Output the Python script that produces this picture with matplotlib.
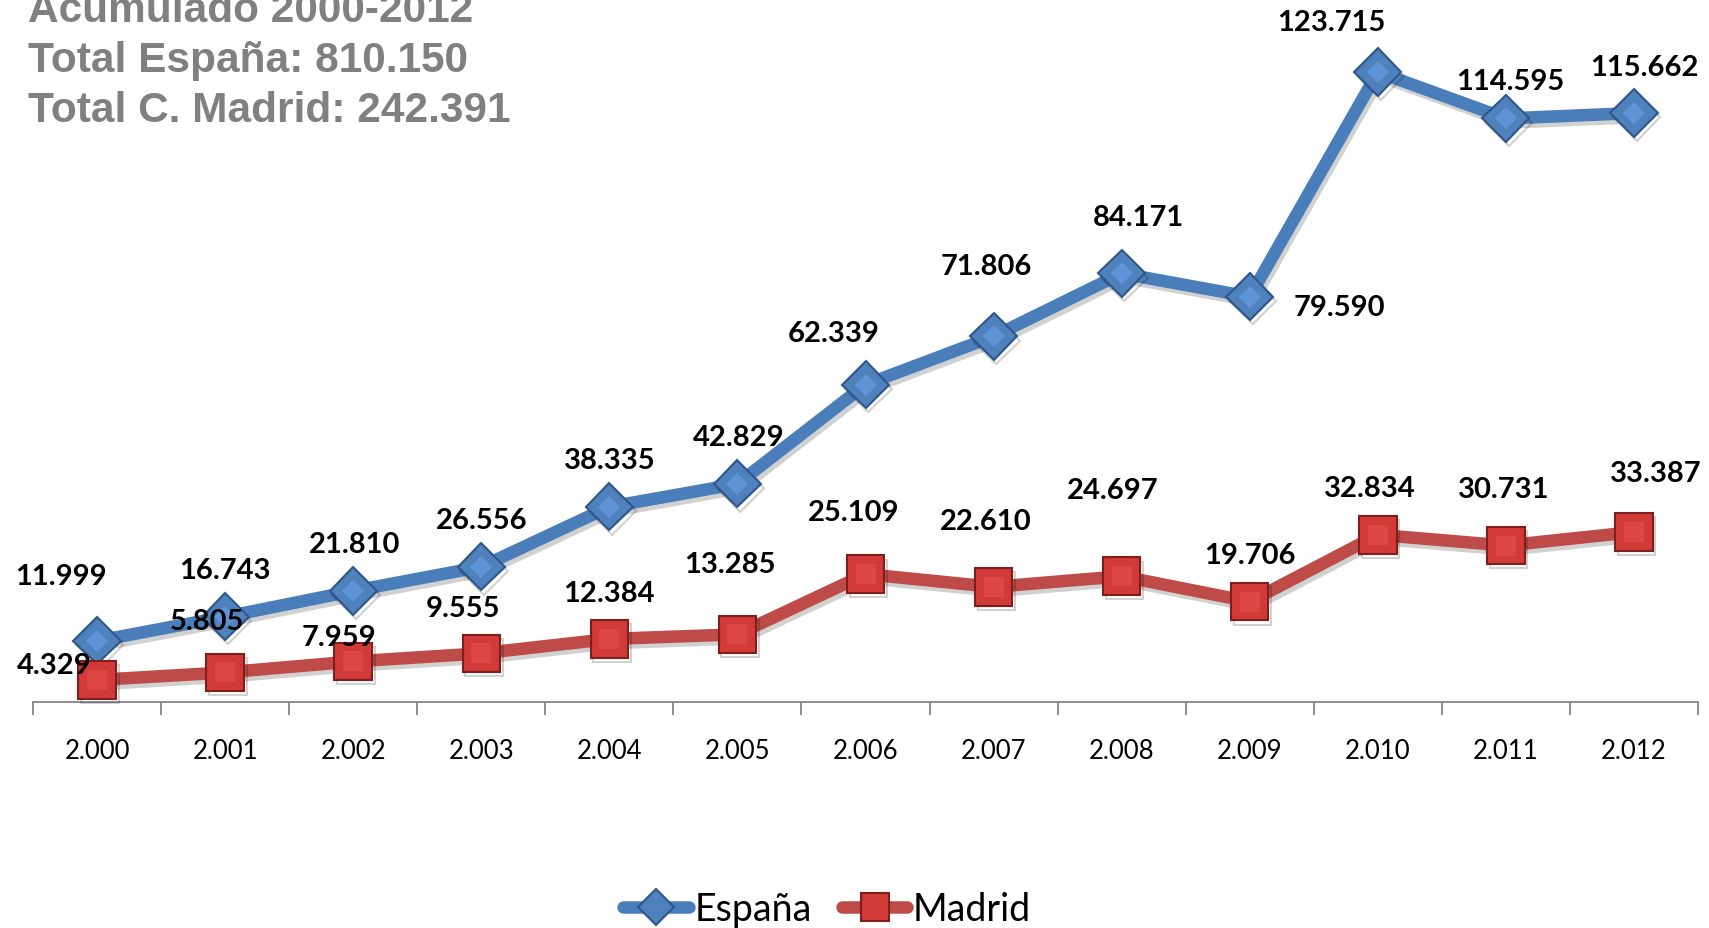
import matplotlib
matplotlib.use("Agg")
import matplotlib.pyplot as plt
import matplotlib.patheffects as pe
from matplotlib.ticker import FixedLocator, NullFormatter

years = ["2.000", "2.001", "2.002", "2.003", "2.004", "2.005", "2.006",
         "2.007", "2.008", "2.009", "2.010", "2.011", "2.012"]
espana = [11999, 16743, 21810, 26556, 38335, 42829, 62339,
          71806, 84171, 79590, 123715, 114595, 115662]
madrid = [4329, 5805, 7959, 9555, 12384, 13285, 25109,
          22610, 24697, 19706, 32834, 30731, 33387]
espana_labels = ["11.999", "16.743", "21.810", "26.556", "38.335", "42.829", "62.339",
                 "71.806", "84.171", "79.590", "123.715", "114.595", "115.662"]
madrid_labels = ["4.329", "5.805", "7.959", "9.555", "12.384", "13.285", "25.109",
                 "22.610", "24.697", "19.706", "32.834", "30.731", "33.387"]
title_lines = ["Acumulado 2000-2012", "Total España: 810.150", "Total C. Madrid: 242.391"]

# label offsets (layout, in reference pixels: dx right, dy down)
esp_off = [(-33, -60), (0, -43), (1, -43), (0, -43), (0, -43), (1, -43), (-29, -47),
           (-7, -65), (15, -52), (82, 9), (-43, -46), (4, -34), (10, -42)]
mad_off = [(-39, -14), (-17, -47), (-13, -22), (-17, -42), (0, -42), (-7, -65), (-11, -57),
           (-7, -60), (-8, -79), (0, -43), (-7, -43), (-2, -52), (20, -54)]

W, H, DPI = 1709, 929, 100
fig = plt.figure(figsize=(W / DPI, H / DPI), dpi=DPI)
fig.patch.set_facecolor("white")

ax_bottom_px = 703
ax_left_px, ax_right_px = 33, 1698
ymax = 140000
k = 0.005092  # px per unit
ax_h_px = ymax * k
ax = fig.add_axes([ax_left_px / W, (H - ax_bottom_px) / H,
                   (ax_right_px - ax_left_px) / W, ax_h_px / H])
ax.set_xlim(-0.5, len(years) - 0.5)
ax.set_ylim(0, ymax)
ax.patch.set_alpha(0)
for s in ["top", "right", "left"]:
    ax.spines[s].set_visible(False)
ax.spines["bottom"].set_color("#868686")
ax.spines["bottom"].set_linewidth(1.3)
ax.set_yticks([])

x = list(range(len(years)))
ax.xaxis.set_major_locator(FixedLocator(x))
ax.set_xticklabels(years, fontsize=18.5, family="Lato", color="black")
ax.tick_params(axis="x", which="major", length=0, pad=26)
ax.xaxis.set_minor_locator(FixedLocator([i - 0.5 for i in range(len(years) + 1)]))
ax.xaxis.set_minor_formatter(NullFormatter())
ax.tick_params(axis="x", which="minor", length=9, width=1.3, color="#868686", direction="out")

shadow = [pe.SimpleLineShadow(offset=(2, -3), shadow_color="#000000", alpha=0.18), pe.Normal()]

ax.plot(x, espana, color="#4A7EBB", lw=9, marker="D", ms=24,
        markerfacecolor="#4F81BD", markeredgecolor="#2F5689", markeredgewidth=1.5,
        solid_capstyle="round", clip_on=False, zorder=3, path_effects=shadow, label="España")
ax.plot(x, madrid, color="#BE4B48", lw=9, marker="s", ms=27,
        markerfacecolor="#D23A37", markeredgecolor="#7F1F1D", markeredgewidth=1.5,
        solid_capstyle="round", clip_on=False, zorder=3, path_effects=shadow, label="Madrid")
# inner highlight for bevel look
ax.plot(x, espana, lw=0, marker="D", ms=11, markerfacecolor="#5E93D6",
        markeredgewidth=0, clip_on=False, zorder=4)
ax.plot(x, madrid, lw=0, marker="s", ms=15, markerfacecolor="#DE4643",
        markeredgewidth=0, clip_on=False, zorder=4)

f = 1709 / 1568 * 72 / DPI
for xi, v, lab, (dx, dy) in zip(x, espana, espana_labels, esp_off):
    ax.annotate(lab, (xi, v), xytext=(dx * f, -dy * f), textcoords="offset points",
                ha="center", va="center", fontsize=21, fontweight="bold",
                family="Lato", color="black", zorder=6, annotation_clip=False)
for xi, v, lab, (dx, dy) in zip(x, madrid, madrid_labels, mad_off):
    ax.annotate(lab, (xi, v), xytext=(dx * f, -dy * f), textcoords="offset points",
                ha="center", va="center", fontsize=21, fontweight="bold",
                family="Lato", color="black", zorder=6, annotation_clip=False)

for i, t in enumerate(title_lines):
    fig.text(28 / W, 1 - (22 + 50 * i) / H, t, fontsize=30.5, fontweight="bold",
             family="Liberation Sans", color="#808080", va="baseline", ha="left")

h1, = ax.plot([], [], color="#4A7EBB", lw=9, marker="D", ms=24,
              markerfacecolor="#4F81BD", markeredgecolor="#2F5689", markeredgewidth=1.5,
              solid_capstyle="round")
h2, = ax.plot([], [], color="#BE4B48", lw=9, marker="s", ms=27,
              markerfacecolor="#D23A37", markeredgecolor="#7F1F1D", markeredgewidth=1.5,
              solid_capstyle="round")
fig.legend([h1, h2], ["España", "Madrid"], loc="center", bbox_to_anchor=(0.484, 0.020),
           ncol=2, frameon=False, prop={"family": "Lato", "size": 27},
           markerscale=0.75, handlelength=1.75, handletextpad=0.15, columnspacing=0.8)

fig.savefig("out.png", dpi=DPI)
